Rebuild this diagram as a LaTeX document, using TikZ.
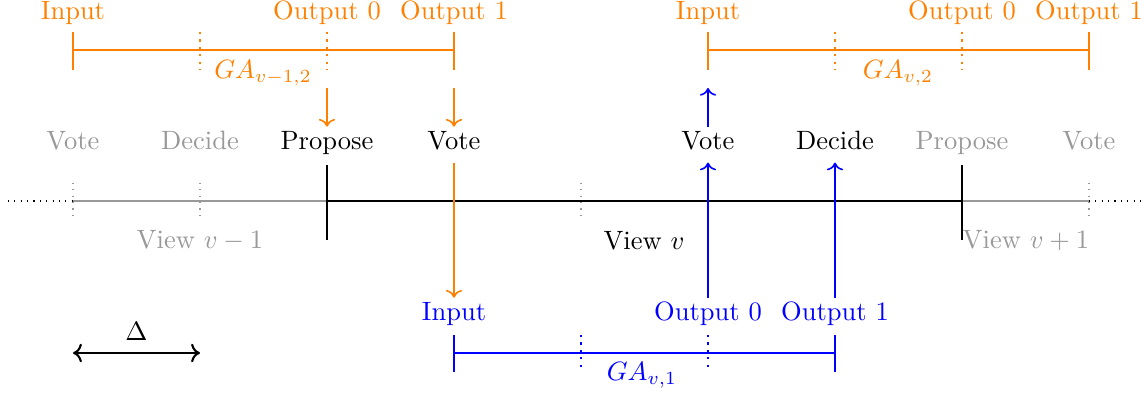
\documentclass[tikz,border=0pt]{standalone}
\usetikzlibrary{arrows.meta}
\definecolor{ga}{RGB}{255,128,0}
\definecolor{gb}{RGB}{0,0,255}
\colorlet{faint}{black!40}
\begin{document}
\begin{tikzpicture}[x=0.377pt,y=-0.377pt,
  lbl/.style={inner sep=1.5pt, outer sep=0.5pt, text height=1.5ex, text depth=.25ex},
  bar/.style={thick},
  dtick/.style={thick, dotted},
  endtick/.style={thick},
  arr/.style={semithick,->},
]
\useasboundingbox (0,0) rectangle (1144,396);

% ---------- main timeline ----------
\coordinate (tl0) at (8,201);
\coordinate (t1) at (73,201);
\coordinate (t2) at (200,201);
\coordinate (t3) at (327,201);
\coordinate (t4) at (454,201);
\coordinate (t5) at (581,201);
\coordinate (t6) at (708,201);
\coordinate (t7) at (835,201);
\coordinate (t8) at (962,201);
\coordinate (t9) at (1089,201);
\coordinate (tl1) at (1142,201);

\draw[thin, dotted] (tl0) -- (t1);
\draw[thin, dotted] (t9) -- (tl1);
\draw[bar, faint] (t1) -- (t3);
\draw[bar] (t3) -- (t8);
\draw[bar, faint] (t8) -- (t9);

\draw[faint, dotted] (73,183) -- (73,217);
\draw[faint, dotted] (200,183) -- (200,217);
\draw[faint, dotted] (581,183) -- (581,217);
\draw[faint, dotted] (1089,183) -- (1089,217);
\draw[endtick] (327,165) -- (327,240);
\draw[endtick] (962,165) -- (962,240);

% phase labels
\node[lbl, faint] (vA) at (73,142) {Vote};
\node[lbl, faint] (dA) at (200,142) {Decide};
\node[lbl] (pB) at (327,142) {Propose};
\node[lbl] (vB) at (454,142) {Vote};
\node[lbl] (vC) at (708,142) {Vote};
\node[lbl] (dC) at (835,142) {Decide};
\node[lbl, faint] (pD) at (962,142) {Propose};
\node[lbl, faint] (vD) at (1089,142) {Vote};

\node[faint] (view1) at (200,241) {View $v-1$};
\node (view2) at (644,241) {View $v$};
\node[faint] (view3) at (1026,241) {View $v+1$};

% ---------- GA_{v-1,2} (orange, left) ----------
\begin{scope}[ga]
\node[lbl] (a1in) at (73,12) {Input};
\node[lbl] (a1o0) at (327,12) {Output 0};
\node[lbl] (a1o1) at (454,12) {Output 1};
\draw[bar] (73,50) -- (454,50);
\draw[endtick] (73,32) -- (73,70);
\draw[endtick] (454,32) -- (454,70);
\draw[dtick] (200,32) -- (200,70);
\draw[dtick] (327,32) -- (327,70);
\node (ga1) at (263,73) {$GA_{v-1,2}$};
\coordinate (a1p) at (327,88);
\coordinate (a1v) at (454,88);
\draw[arr] (a1p) -- (pB.north);
\draw[arr] (a1v) -- (vB.north);
\end{scope}

% ---------- GA_{v,2} (orange, right) ----------
\begin{scope}[ga]
\node[lbl] (a2in) at (708,12) {Input};
\node[lbl] (a2o0) at (962,12) {Output 0};
\node[lbl] (a2o1) at (1089,12) {Output 1};
\draw[bar] (708,50) -- (1089,50);
\draw[endtick] (708,32) -- (708,70);
\draw[endtick] (1089,32) -- (1089,70);
\draw[dtick] (835,32) -- (835,70);
\draw[dtick] (962,32) -- (962,70);
\node (ga2) at (898,73) {$GA_{v,2}$};
\end{scope}
\coordinate (a2i) at (708,88);
\draw[arr, gb] (vC.north) -- (a2i);

% ---------- GA_{v,1} (blue, bottom) ----------
\begin{scope}[gb]
\node[lbl] (b1in) at (454,313) {Input};
\node[lbl] (b1o0) at (708,313) {Output 0};
\node[lbl] (b1o1) at (835,313) {Output 1};
\draw[bar] (454,353) -- (835,353);
\draw[endtick] (454,335) -- (454,372);
\draw[endtick] (835,335) -- (835,372);
\draw[dtick] (581,335) -- (581,372);
\draw[dtick] (708,335) -- (708,372);
\node (ga3) at (642,375) {$GA_{v,1}$};
\draw[arr, shorten >=2pt] (b1o0.north) -- (vC.south);
\draw[arr, shorten >=2pt] (b1o1.north) -- (dC.south);
\end{scope}
\draw[arr, ga, shorten <=2pt] (vB.south) -- (b1in.north);

% ---------- Delta ----------
\coordinate (dl) at (73,353);
\coordinate (dr) at (200,353);
\draw[thick, <->] (dl) -- (dr) node[midway, above=1pt] (delta) {$\Delta$};
\end{tikzpicture}
\end{document}
